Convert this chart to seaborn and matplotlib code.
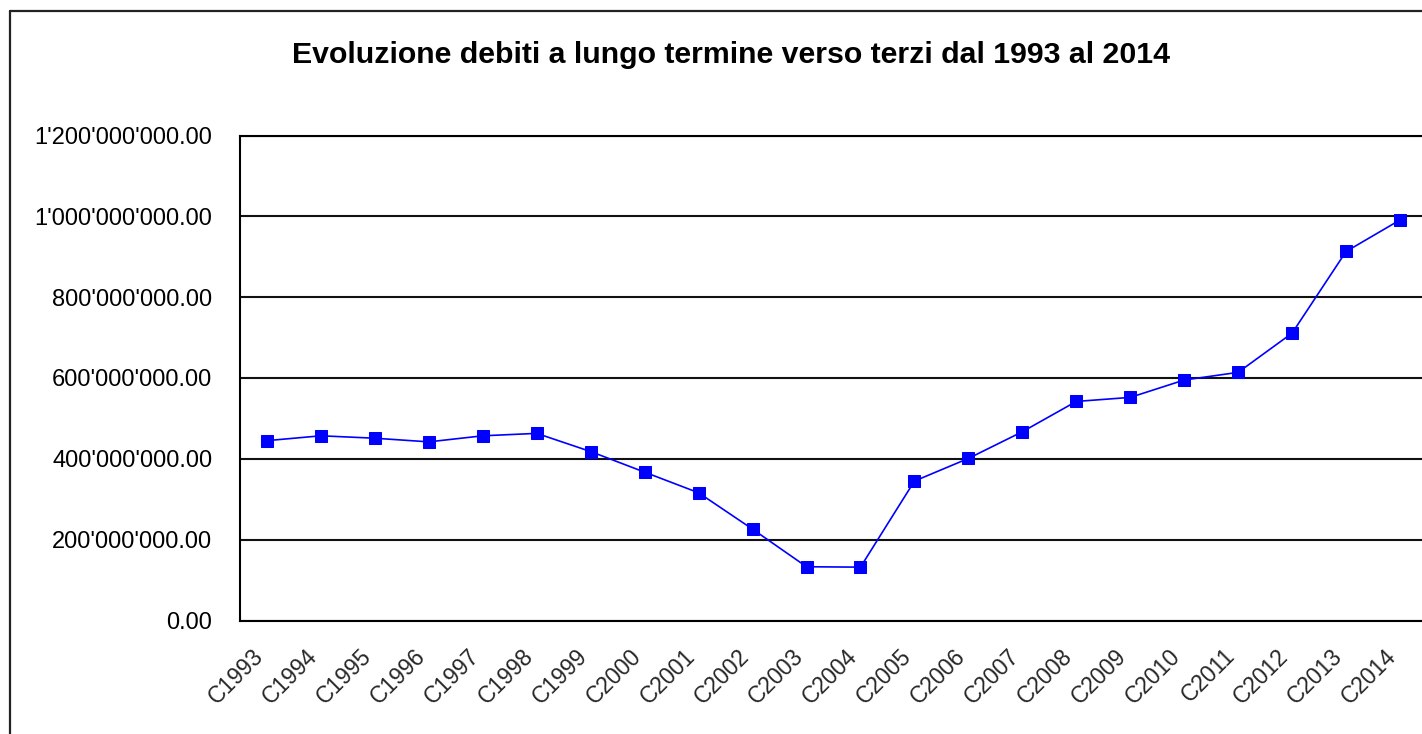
import matplotlib
matplotlib.use("Agg")
import matplotlib.pyplot as plt
from matplotlib.lines import Line2D
from matplotlib.ticker import FuncFormatter, FixedLocator
from matplotlib.transforms import ScaledTranslation
import seaborn as sns
import pandas as pd

# -------------------- DATA --------------------
categories = ["C1993", "C1994", "C1995", "C1996", "C1997", "C1998", "C1999",
              "C2000", "C2001", "C2002", "C2003", "C2004", "C2005", "C2006",
              "C2007", "C2008", "C2009", "C2010", "C2011", "C2012", "C2013",
              "C2014"]
debiti = [445e6, 457e6, 451e6, 442e6, 457e6, 463e6, 418e6,
          367e6, 316e6, 226e6, 133e6, 132e6, 345e6, 401e6,
          467e6, 542e6, 552e6, 595e6, 614e6, 711e6, 913e6,
          991e6]
y_ticks = [0, 200e6, 400e6, 600e6, 800e6, 1000e6, 1200e6]
title = "Evoluzione debiti a lungo termine verso terzi dal 1993 al 2014"

df = pd.DataFrame({"anno": categories, "debiti": debiti})

# -------------------- STYLE --------------------
sns.set_style("white")
plt.rcParams['font.family'] = ['Liberation Sans', 'DejaVu Sans']

W, H = 1422, 734
fig = plt.figure(figsize=(W / 100, H / 100), dpi=100)
ax = fig.add_axes([240 / W, (H - 620.5) / H, (1427 - 240) / W, 485 / H])

sns.lineplot(data=df, x="anno", y="debiti", ax=ax, color="#0000ff",
             marker="s", markersize=8.6, markeredgecolor="#0000ff",
             linewidth=1.2, sort=False)

n = len(categories)
ax.set_xlim(-0.5, n - 0.5)
ax.set_ylim(0, 1.2e9)

# y axis
ax.set_yticks(y_ticks)
ax.yaxis.set_major_formatter(FuncFormatter(lambda v, p: f"{v:,.2f}".replace(",", "'")))
ax.tick_params(axis="y", direction="out", length=6, width=1.5, color="black",
               pad=14, labelsize=17, labelcolor="black")
ax.grid(axis="y", color="#111111", linewidth=1.5)
ax.set_axisbelow(True)

# x axis: tick marks between categories, labels at centres
ax.xaxis.set_major_locator(FixedLocator([i - 0.5 for i in range(n + 1)]))
ax.xaxis.set_major_formatter(FuncFormatter(lambda v, p: ""))
ax.set_xticks(range(n), categories, minor=True)
ax.tick_params(axis="x", which="major", direction="out", length=6.5, width=1.5, color="black")
ax.tick_params(axis="x", which="minor", length=0, pad=23, labelsize=16.5)
shift = ScaledTranslation(-7 / 100, 0, fig.dpi_scale_trans)
for tick in ax.xaxis.get_minor_ticks():
    lbl = tick.label1
    lbl.set_rotation(45)
    lbl.set_ha("right")
    lbl.set_va("center")
    lbl.set_rotation_mode("anchor")
    lbl.set_transform(lbl.get_transform() + shift)

ax.set_xlabel("")
ax.set_ylabel("")
ax.spines["right"].set_visible(False)
for side in ["left", "bottom", "top"]:
    ax.spines[side].set_color("black")
    ax.spines[side].set_linewidth(1.5)

# chart border (Excel chart area), right and bottom cut off
bx, by = 10 / W, 1 - 11 / H
fig.add_artist(Line2D([bx, bx], [0, by], transform=fig.transFigure, color="#222222", lw=1.6))
fig.add_artist(Line2D([bx, 1], [by, by], transform=fig.transFigure, color="#222222", lw=1.6))

fig.text(731 / W, 1 - 55 / H, title, ha="center", va="center",
         fontsize=21.8, fontweight="bold", color="black")

fig.savefig("out.png", dpi=100, facecolor="white")
